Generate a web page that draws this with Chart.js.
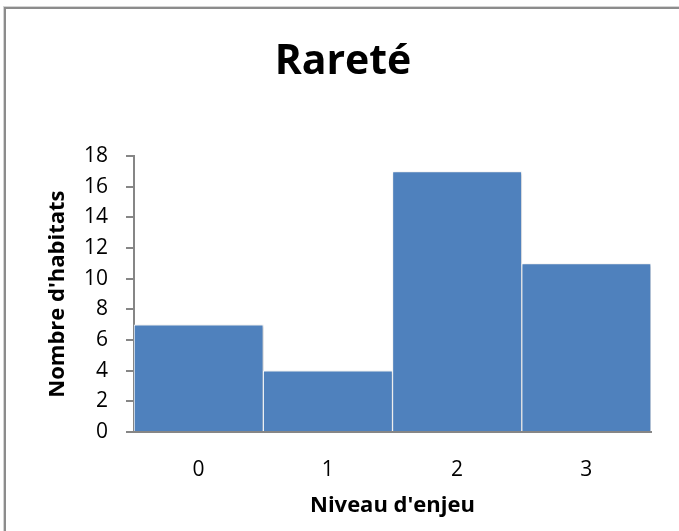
<!DOCTYPE html>
<html lang="fr">
<head>
<meta charset="utf-8">
<script src="https://cdn.jsdelivr.net/npm/chart.js@4/dist/chart.umd.min.js"></script>
<style>
    html, body { margin: 0; padding: 0; background: #fff; overflow: hidden; }
    #wrap { position: relative; width: 679px; height: 531px; }
    #cadre {
        position: absolute; left: 4px; top: 7px; width: 720px; height: 600px;
        border-top: 2px solid #8c8c8c; border-left: 2px solid #8c8c8c;
        box-shadow: -1px -1px 0 #d4d4d4;
        pointer-events: none;
    }
</style>
</head>
<body>
<div id="wrap">
    <canvas id="rareteChart" width="679" height="531"></canvas>
    <div id="cadre"></div>
</div>
<script>
// niveaux d'enjeu et nombre d'habitats par niveau
const niveaux = ["0", "1", "2", "3"];
const nbHabitats = [7, 4, 17, 11];
const axeY = { min: 0, max: 18, pas: 2 };

const police = "'Open Sans', 'Liberation Sans', sans-serif";
const gris = "#868686";

// petite ombre sous les barres
const ombreBarres = {
    id: "ombreBarres",
    beforeDatasetsDraw(chart) {
        const ctx = chart.ctx;
        ctx.save();
        ctx.shadowColor = "rgba(0, 0, 0, 0.25)";
        ctx.shadowBlur = 3;
        ctx.shadowOffsetX = 1;
        ctx.shadowOffsetY = 1;
    },
    afterDatasetsDraw(chart) {
        chart.ctx.restore();
    }
};

const ctx = document.getElementById("rareteChart").getContext("2d");
const rareteChart = new Chart(ctx, {
    type: "bar",
    data: {
        labels: niveaux,
        datasets: [{
            label: "Nombre d'habitats",
            data: nbHabitats,
            backgroundColor: "#4f81bd",
            borderColor: "#ffffff",
            borderWidth: { left: 1, right: 1, top: 1, bottom: 0 },
            borderSkipped: false,
            categoryPercentage: 1.0,
            barPercentage: 1.0,
        }],
    },
    options: {
        responsive: false,
        animation: false,
        devicePixelRatio: 1,
        // marges gauche/droite choisies pour centrer le titre sur la page
        layout: { padding: { left: 35, right: 28, top: 0, bottom: 0 } },
        plugins: {
            legend: { display: false },
            tooltip: { enabled: false },
            title: {
                display: true,
                text: "Rareté",
                color: "#000",
                font: { family: police, size: 41, weight: "bold", lineHeight: 1.2 },
                padding: { top: 38, bottom: 69 },
            },
        },
        scales: {
            x: {
                grid: { drawOnChartArea: false, drawTicks: false },
                border: { display: true, color: gris, width: 2 },
                ticks: { color: "#000", padding: 25, font: { family: police, size: 21 } },
                title: {
                    display: true,
                    text: "Niveau d'enjeu",
                    color: "#000",
                    font: { family: police, size: 22, weight: "bold", lineHeight: 1.2 },
                    padding: { top: 0, bottom: 12 },
                },
                afterFit(scale) { scale.height = 99; },
            },
            y: {
                min: axeY.min,
                max: axeY.max,
                grid: { drawOnChartArea: false, drawTicks: true, tickLength: 8, color: gris, lineWidth: 2 },
                border: { display: true, color: gris, width: 2 },
                ticks: {
                    stepSize: axeY.pas,
                    color: "#000",
                    padding: 18,
                    font: { family: police, size: 21 },
                },
                title: {
                    display: true,
                    text: "Nombre d'habitats",
                    color: "#000",
                    font: { family: police, size: 22, weight: "bold", lineHeight: 1.2 },
                    padding: { top: 10, bottom: 0 },
                },
                afterFit(scale) { scale.width = 99; },
            },
        },
    },
    plugins: [ombreBarres],
});
</script>
</body>
</html>
